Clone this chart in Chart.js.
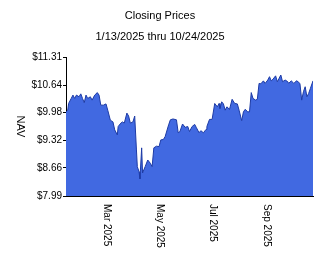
<!DOCTYPE html>
<html>
<head>
<meta charset="utf-8">
<script src="https://cdn.jsdelivr.net/npm/chart.js@4/dist/chart.umd.min.js"></script>
<style>
html,body{margin:0;padding:0;background:#fff;}
#wrap{width:324px;height:267px;position:relative;}
</style>
</head>
<body>
<div id="wrap"><canvas id="c" width="324" height="267"></canvas></div>
<script>
const titleText = 'Closing Prices';
const subtitleText = '1/13/2025 thru 10/24/2025';
const yAxisTitle = 'NAV';
const totalDays = 284; // 1/13/2025 .. 10/24/2025
const daysSinceStart = [0,2,3,6,8,10,12,15,17,19,21,23,25,28,30,33,36,38,40,43,46,48,51,54,56,59,60,63,65,67,70,72,74,77,79,81,82,84,85,87,88,91,94,97,99,101,104,107,109,112,114,118,120,123,127,129,131,134,137,140,142,145,148,150,153,155,158,161,162,165,168,171,174,176,177,179,181,183,185,188,191,194,197,199,202,204,206,209,211,213,215,218,220,222,224,227,229,232,234,236,238,241,243,245,247,249,252,255,256,259,262,265,267,269,271,273,275,277,279,281,284];
const navValues = [10.00,10.04,10.20,10.32,10.40,10.32,10.40,10.36,10.43,10.32,
10.22,10.40,10.32,10.36,10.28,10.40,10.46,10.40,10.16,10.16,
10.19,10.04,9.80,9.76,9.57,9.45,9.65,9.73,9.76,9.73,
9.97,9.90,9.73,9.76,9.90,9.09,8.69,8.57,8.40,9.14,
8.54,8.69,8.85,8.77,8.69,9.14,9.18,9.17,9.33,9.34,
9.41,9.69,9.81,9.83,9.81,9.50,9.53,9.71,9.63,9.65,
9.53,9.65,9.70,9.62,9.50,9.55,9.50,9.58,9.65,9.82,
9.82,10.20,10.12,10.20,10.08,10.24,10.19,10.04,10.12,10.06,
10.30,10.20,10.19,10.04,9.79,10.00,10.06,10.00,10.00,10.46,
10.32,10.28,10.30,10.68,10.67,10.74,10.68,10.76,10.84,10.74,
10.78,10.86,10.72,10.80,10.88,10.72,10.76,10.72,10.68,10.74,
10.68,10.74,10.72,10.67,10.28,10.48,10.60,10.36,10.44,10.56,
10.74];
const xTickDays = [47,108,169,231];
const xTickLabels = ['Mar 2025','May 2025','Jul 2025','Sep 2025'];
const yTickValues = [7.99,8.66,9.32,9.98,10.64,11.31];

const points = daysSinceStart.map((d,i)=>({x:d,y:navValues[i]}));
const FONT = '"Liberation Sans", Arial, sans-serif';

const textPlugin = {
  id:'textPlugin',
  afterDraw(chart){
    const ctx = chart.ctx;
    const xs = chart.scales.x;
    const ca = chart.chartArea;
    ctx.save();
    ctx.fillStyle = '#000';
    ctx.font = '11px ' + FONT;
    ctx.textAlign = 'center';
    ctx.textBaseline = 'middle';
    ctx.fillText(titleText, 160, 16);
    ctx.fillText(subtitleText, 160, 37);
    // y axis title, rotated clockwise
    ctx.save();
    ctx.translate(20, (ca.top+ca.bottom)/2);
    ctx.rotate(Math.PI/2);
    ctx.fillText(yAxisTitle, 0, 0);
    ctx.restore();
    // x tick labels, rotated clockwise
    ctx.font = '10px ' + FONT;
    xTickDays.forEach((d,i)=>{
      const px = xs.getPixelForValue(d);
      ctx.save();
      ctx.translate(px, ca.bottom + 8);
      ctx.rotate(Math.PI/2);
      ctx.textAlign = 'left';
      ctx.textBaseline = 'middle';
      ctx.fillText(xTickLabels[i], 0, 0);
      ctx.restore();
    });
    ctx.restore();
  }
};

new Chart(document.getElementById('c'), {
  type:'line',
  data:{datasets:[{
    data:points,
    borderColor:'rgb(28,58,165)',
    backgroundColor:'rgb(65,105,225)',
    borderWidth:1,
    pointRadius:0,
    fill:'start',
    tension:0
  }]},
  options:{
    responsive:false,
    animation:false,
    devicePixelRatio:1,
    layout:{padding:{top:57,left:0,right:11,bottom:0}},
    plugins:{legend:{display:false},title:{display:false},tooltip:{enabled:false}},
    scales:{
      x:{
        type:'linear', min:0, max:totalDays,
        grid:{display:false},
        border:{display:true,color:'#000',width:1},
        ticks:{display:false},
        afterFit(s){ s.height = 71; }
      },
      y:{
        type:'linear', min:yTickValues[0], max:yTickValues[yTickValues.length-1],
        afterBuildTicks(s){ s.ticks = yTickValues.map(v=>({value:v})); },
        grid:{display:true,drawOnChartArea:false,drawTicks:true,tickLength:3,color:'#000'},
        border:{display:true,color:'#000',width:1},
        ticks:{color:'#000',font:{family:FONT,size:10},padding:1,
          callback:(v)=>'$'+Number(v).toFixed(2)},
        afterFit(s){ s.width = 66; }
      }
    }
  },
  plugins:[textPlugin]
});
</script>
</body>
</html>
